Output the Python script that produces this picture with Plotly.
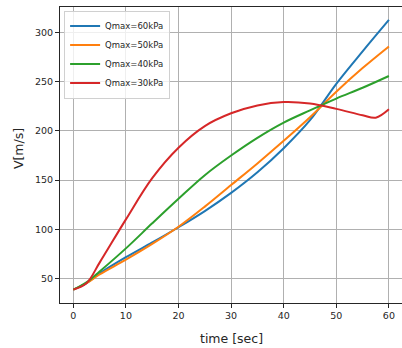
import plotly.graph_objects as go

t = [0, 2.5, 5, 10, 15, 20, 25, 30, 35, 40, 45, 50, 55, 60]
v60 = [38.5, 45, 55, 71.5, 86.5, 102, 118.5, 137, 158, 182.5, 211, 248, 281, 313]
v50 = [38.5, 45, 54, 69, 85, 102.5, 123, 145, 167, 190, 214, 240, 264, 286]
v40 = [38.5, 46, 57, 80.5, 106, 131, 155, 175, 193, 208.5, 221, 233, 244, 256]
t30 = [0, 2.5, 5, 10, 15, 20, 25, 30, 35, 40, 45, 50, 55, 57.5, 60]
v30 = [38.5, 45, 66, 110, 152, 183, 205, 218, 226, 229.5, 228, 222.5, 216, 213.5, 222]
names = ["Qmax=60kPa", "Qmax=50kPa", "Qmax=40kPa", "Qmax=30kPa"]
colors = ["#1f77b4", "#ff7f0e", "#2ca02c", "#d62728"]
xticks = [0, 10, 20, 30, 40, 50, 60]
yticks = [50, 100, 150, 200, 250, 300]

fig = go.Figure()
for xs, vals, name, c in zip([t, t, t, t30], [v60, v50, v40, v30], names, colors):
    fig.add_trace(go.Scatter(x=xs, y=vals, mode="lines", name=name,
                             line=dict(color=c, width=2, shape="spline", smoothing=1.0)))

font = "DejaVu Sans"
fig.update_layout(
    width=402, height=348,
    margin=dict(l=60, r=0, t=6.5, b=45),
    paper_bgcolor="white", plot_bgcolor="white",
    font=dict(family=font, size=9.5, color="#262626"),
    showlegend=True,
    legend=dict(x=0.012, y=0.988, xanchor="left", yanchor="top",
                bgcolor="rgba(255,255,255,0.8)", bordercolor="#d0d0d0", borderwidth=1,
                font=dict(size=8.5, family=font, color="#262626"),
                tracegroupgap=0, itemwidth=30),
    xaxis=dict(range=[-2.53, 62.49], tickvals=xticks, showgrid=True, gridcolor="#b0b0b0",
               gridwidth=1, showline=True, linecolor="#262626", linewidth=1, mirror=True,
               ticks="outside", ticklen=4, tickcolor="#262626", zeroline=False),
    yaxis=dict(range=[24.9, 326.2], tickvals=yticks, showgrid=True, gridcolor="#b0b0b0",
               gridwidth=1, showline=True, linecolor="#262626", linewidth=1, mirror=False,
               ticks="outside", ticklen=4, tickcolor="#262626", zeroline=False),
    annotations=[
        dict(text="time [sec]", xref="paper", yref="paper", x=0.502, y=-0.121,
             xanchor="center", yanchor="middle", showarrow=False,
             font=dict(size=12.5, family=font, color="#262626")),
        dict(text="V[m/s]", xref="paper", yref="paper", x=-0.1228, y=0.52,
             xanchor="center", yanchor="middle", showarrow=False, textangle=-90,
             font=dict(size=12.5, family=font, color="#262626")),
    ],
)
fig.write_html("out.html")
